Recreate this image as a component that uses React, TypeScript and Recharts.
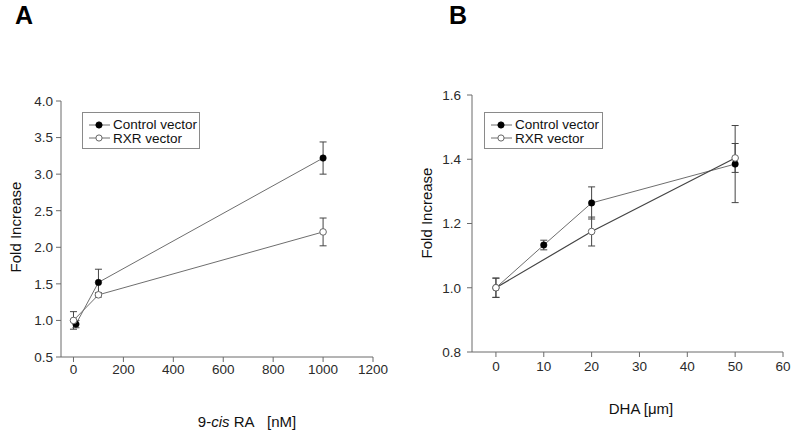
import React from 'react';
import {
  ScatterChart,
  Scatter,
  XAxis,
  YAxis,
  ErrorBar,
  Label,
} from 'recharts';

const FONT = '"Liberation Sans", Arial, Helvetica, sans-serif';

// Panel A: 9-cis RA dose response
const raControlDose = [10, 100, 1000];
const raControlFold = [0.95, 1.52, 3.22];
const raControlErr = [0.05, 0.18, 0.22];
const raRxrDose = [0, 100, 1000];
const raRxrFold = [1.0, 1.35, 2.21];
const raRxrErr = [0.12, 0.03, 0.19];
const raXTicks = [0, 200, 400, 600, 800, 1000, 1200];
const raYTicks = [0.5, 1.0, 1.5, 2.0, 2.5, 3.0, 3.5, 4.0];

// Panel B: DHA dose response
const dhaControlDose = [0, 10, 20, 50];
const dhaControlFold = [1.0, 1.133, 1.264, 1.385];
const dhaControlErr = [0.03, 0.015, 0.05, 0.12];
const dhaRxrDose = [0, 20, 50];
const dhaRxrFold = [1.0, 1.175, 1.404];
const dhaRxrErr = [0.03, 0.045, 0.045];
const dhaXTicks = [0, 10, 20, 30, 40, 50, 60];
const dhaYTicks = [0.8, 1.0, 1.2, 1.4, 1.6];

const seriesNames = ['Control vector', 'RXR vector'];

const toPoints = (xs: number[], ys: number[], errs: number[]) =>
  xs.map((x, i) => ({ x, y: ys[i], err: errs[i] }));

const AXIS = '#6b6b6b';
const LINE = '#6e6e6e';
const tickStyle = { fill: '#2a2a2a', fontSize: 13.5, fontFamily: FONT };

const FilledDot = (p: any) => (
  <circle cx={p.cx} cy={p.cy} r={3.2} fill="#000" stroke="#000" strokeWidth={0.6} />
);
const OpenDot = (p: any) => (
  <circle cx={p.cx} cy={p.cy} r={3.3} fill="#fff" stroke="#666" strokeWidth={1} />
);

function LegendBox(props: { left: number; top: number; width: number }) {
  const rows = [
    { name: seriesNames[0], fill: '#000', stroke: '#000' },
    { name: seriesNames[1], fill: '#fff', stroke: '#666' },
  ];
  return (
    <div
      style={{
        position: 'absolute',
        left: props.left,
        top: props.top,
        width: props.width,
        height: 37,
        boxSizing: 'border-box',
        border: '1px solid #8a8a8a',
        background: '#fff',
        paddingTop: 5,
      }}
    >
      {rows.map((r) => (
        <div
          key={r.name}
          style={{ display: 'flex', alignItems: 'center', height: 13.5, fontSize: 13.5, color: '#111', fontFamily: FONT }}
        >
          <svg width={30} height={10} style={{ flex: 'none' }}>
            <line x1={6} y1={5} x2={27} y2={5} stroke={LINE} strokeWidth={1} />
            <circle cx={16} cy={5} r={3.1} fill={r.fill} stroke={r.stroke} strokeWidth={1} />
          </svg>
          <span style={{ whiteSpace: 'nowrap' }}>{r.name}</span>
        </div>
      ))}
    </div>
  );
}

export default function App() {
  const raControl = toPoints(raControlDose, raControlFold, raControlErr);
  const raRxr = toPoints(raRxrDose, raRxrFold, raRxrErr);
  const dhaControl = toPoints(dhaControlDose, dhaControlFold, dhaControlErr);
  const dhaRxr = toPoints(dhaRxrDose, dhaRxrFold, dhaRxrErr);

  return (
    <div style={{ position: 'absolute', left: 0, top: 0, width: 800, height: 437, background: '#fff', fontFamily: FONT }}>
      <div style={{ position: 'absolute', left: 15, top: 3, fontSize: 25, fontWeight: 'bold', lineHeight: '25px' }}>A</div>
      <div style={{ position: 'absolute', left: 449, top: 3, fontSize: 25, fontWeight: 'bold', lineHeight: '25px' }}>B</div>

      <div style={{ position: 'absolute', left: 0, top: 0 }}>
        <ScatterChart width={400} height={437} margin={{ top: 101, right: 27, bottom: 0, left: 0 }}>
          <XAxis
            type="number"
            dataKey="x"
            domain={[-50, 1200]}
            ticks={raXTicks}
            allowDataOverflow
            height={80}
            stroke={AXIS}
            tickSize={5}
            tickMargin={2}
            tick={tickStyle}
          >
            <Label
              content={() => (
                <text x={247} y={427} textAnchor="middle" fontSize={15} fontFamily={FONT} fill="#111">
                  9-<tspan fontStyle="italic">cis</tspan> RA{'\u00a0\u00a0\u00a0'}[nM]
                </text>
              )}
            />
          </XAxis>
          <YAxis
            type="number"
            dataKey="y"
            domain={[0.5, 4.0]}
            ticks={raYTicks}
            allowDataOverflow
            width={61}
            stroke={AXIS}
            tickSize={5}
            tickMargin={3}
            tick={tickStyle}
            tickFormatter={(v: number) => v.toFixed(1)}
          >
            <Label
              content={() => (
                <text x={15} y={227} transform="rotate(-90 15 227)" textAnchor="middle" dominantBaseline="central" fontSize={15} fontFamily={FONT} fill="#111">
                  Fold Increase
                </text>
              )}
            />
          </YAxis>
          <Scatter name={seriesNames[0]} data={raControl} line={{ stroke: LINE, strokeWidth: 1 }} lineType="joint" shape={FilledDot} isAnimationActive={false}>
            <ErrorBar dataKey="err" direction="y" width={3.5} stroke="#444" strokeWidth={1} isAnimationActive={false} />
          </Scatter>
          <Scatter name={seriesNames[1]} data={raRxr} line={{ stroke: LINE, strokeWidth: 1 }} lineType="joint" shape={OpenDot} isAnimationActive={false}>
            <ErrorBar dataKey="err" direction="y" width={3.5} stroke="#444" strokeWidth={1} isAnimationActive={false} />
          </Scatter>
        </ScatterChart>
      </div>

      <div style={{ position: 'absolute', left: 400, top: 0 }}>
        <ScatterChart width={400} height={437} margin={{ top: 95, right: 17, bottom: 0, left: 0 }}>
          <XAxis
            type="number"
            dataKey="x"
            domain={[-5, 60]}
            ticks={dhaXTicks}
            allowDataOverflow
            height={85}
            stroke={AXIS}
            tickSize={5}
            tickMargin={4}
            tick={tickStyle}
          >
            <Label
              content={() => (
                <text x={241} y={414} textAnchor="middle" fontSize={15} fontFamily={FONT} fill="#111">
                  DHA [μm]
                </text>
              )}
            />
          </XAxis>
          <YAxis
            type="number"
            dataKey="y"
            domain={[0.8, 1.6]}
            ticks={dhaYTicks}
            allowDataOverflow
            width={72}
            stroke={AXIS}
            tickSize={5}
            tickMargin={6}
            tick={tickStyle}
            tickFormatter={(v: number) => v.toFixed(1)}
          >
            <Label
              content={() => (
                <text x={26} y={213} transform="rotate(-90 26 213)" textAnchor="middle" dominantBaseline="central" fontSize={15} fontFamily={FONT} fill="#111">
                  Fold Increase
                </text>
              )}
            />
          </YAxis>
          <Scatter name={seriesNames[0]} data={dhaControl} line={{ stroke: LINE, strokeWidth: 1 }} lineType="joint" shape={FilledDot} isAnimationActive={false}>
            <ErrorBar dataKey="err" direction="y" width={3.5} stroke="#444" strokeWidth={1} isAnimationActive={false} />
          </Scatter>
          <Scatter name={seriesNames[1]} data={dhaRxr} line={{ stroke: '#444', strokeWidth: 1.2 }} lineType="joint" shape={OpenDot} isAnimationActive={false}>
            <ErrorBar dataKey="err" direction="y" width={3.5} stroke="#444" strokeWidth={1} isAnimationActive={false} />
          </Scatter>
        </ScatterChart>
      </div>

      <LegendBox left={82} top={112} width={118} />
      <LegendBox left={484} top={112} width={119} />
    </div>
  );
}
